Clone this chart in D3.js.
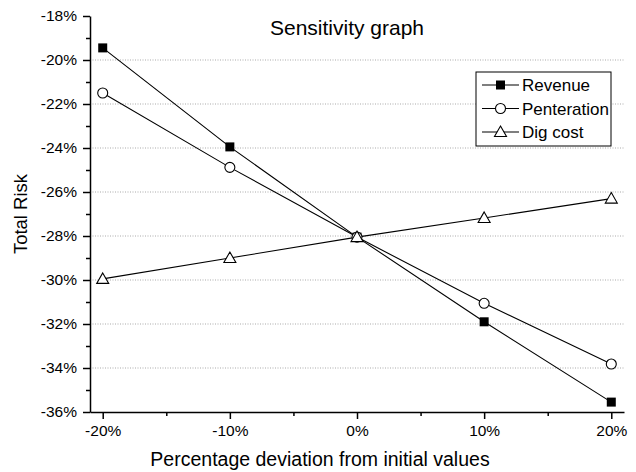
<!DOCTYPE html>
<html><head><meta charset="utf-8">
<script src="https://cdn.jsdelivr.net/npm/d3@7"></script>
<style>body{margin:0;background:#fff}svg{display:block}text{font-family:Arial,"Liberation Sans",sans-serif;fill:#000}</style>
</head><body>
<script>
const xValues = [-20, -10, 0, 10, 20];
const revenue = [-19.45, -23.95, -28.05, -31.9, -35.55];
const penteration = [-21.5, -24.88, -28.05, -31.06, -33.82];
const digCost = [-29.95, -29.0, -28.05, -27.18, -26.3];
const seriesNames = ["Revenue", "Penteration", "Dig cost"];
const xTicks = [-20, -10, 0, 10, 20];
const yTicks = [-36, -34, -32, -30, -28, -26, -24, -22, -20, -18];
const title = "Sensitivity graph";
const xLabel = "Percentage deviation from initial values";
const yLabel = "Total Risk";

const W = 636, H = 472;
const svg = d3.select("body").append("svg").attr("width", W).attr("height", H);
const x = d3.scaleLinear().domain([-21, 21]).range([90, 624]);
const y = d3.scaleLinear().domain([-36, -18]).range([412, 16]);

// gridlines
svg.append("g").selectAll("line").data(yTicks.filter(d => d > -36 && d < -18)).join("line")
  .attr("x1", x(-21)).attr("x2", x(21)).attr("y1", d => y(d)).attr("y2", d => y(d))
  .attr("stroke", "#aaa").attr("stroke-width", 1).attr("stroke-dasharray", "1,1.5");

// axes
const fmt = d => d + "%";
const xAxis = svg.append("g").attr("transform", `translate(0,${y(-36)})`)
  .call(d3.axisBottom(x).tickValues(xTicks).tickFormat(fmt).tickSize(7).tickSizeOuter(0).tickPadding(6));
const xMinor = svg.append("g").attr("transform", `translate(0,${y(-36)})`)
  .call(d3.axisBottom(x).tickValues([-15, -5, 5, 15]).tickFormat("").tickSize(4).tickSizeOuter(0));
const yAxis = svg.append("g").attr("transform", `translate(${x(-21)},0)`)
  .call(d3.axisLeft(y).tickValues(yTicks).tickFormat(fmt).tickSize(7).tickSizeOuter(0).tickPadding(6));
const yMinor = svg.append("g").attr("transform", `translate(${x(-21)},0)`)
  .call(d3.axisLeft(y).tickValues([-35, -33, -31, -29, -27, -25, -23, -21, -19]).tickFormat("").tickSize(4).tickSizeOuter(0));
[xAxis, xMinor, yAxis, yMinor].forEach(g => {
  g.selectAll("path,line").attr("stroke", "#000").attr("stroke-width", 1.5);
  g.selectAll("text").attr("font-size", 15.5).style("font-family", 'Arial,"Liberation Sans",sans-serif');
});
xMinor.select("path").remove(); yMinor.select("path").remove();

// lines
const line = d3.line().x((d, i) => x(xValues[i])).y(d => y(d));
const allSeries = [revenue, penteration, digCost];
allSeries.forEach(s => {
  svg.append("path").datum(s).attr("d", line).attr("fill", "none").attr("stroke", "#000").attr("stroke-width", 1.1);
});

function marker(g, type, cx, cy) {
  if (type === 0) g.append("rect").attr("x", cx - 4.5).attr("y", cy - 4.5).attr("width", 9).attr("height", 9).attr("fill", "#000");
  else if (type === 1) g.append("circle").attr("cx", cx).attr("cy", cy).attr("r", 5).attr("fill", "#fff").attr("stroke", "#000").attr("stroke-width", 1.1);
  else g.append("path").attr("d", `M${cx},${cy - 6}L${cx + 6},${cy + 4.5}L${cx - 6},${cy + 4.5}Z`).attr("fill", "#fff").attr("stroke", "#000").attr("stroke-width", 1.1);
}
allSeries.forEach((s, k) => {
  const g = svg.append("g");
  s.forEach((v, i) => marker(g, k, x(xValues[i]), y(v)));
});

// title & labels
svg.append("text").attr("x", 347).attr("y", 35).attr("text-anchor", "middle").attr("font-size", 21).text(title);
svg.append("text").attr("x", 320).attr("y", 466).attr("text-anchor", "middle").attr("font-size", 19.5).text(xLabel);
svg.append("text").attr("transform", "translate(27,214) rotate(-90)").attr("text-anchor", "middle").attr("font-size", 18.5).text(yLabel);

// legend
const lg = svg.append("g");
lg.append("rect").attr("x", 476).attr("y", 72).attr("width", 135).attr("height", 74).attr("fill", "#fff").attr("stroke", "#000").attr("stroke-width", 1);
seriesNames.forEach((n, k) => {
  const ly = 85 + k * 23.5;
  lg.append("line").attr("x1", 482).attr("x2", 519).attr("y1", ly).attr("y2", ly).attr("stroke", "#000").attr("stroke-width", 1.1);
  marker(lg, k, 500.5, ly);
  lg.append("text").attr("x", 522).attr("y", ly + 6).attr("font-size", 17).text(n);
});
</script>
</body></html>
